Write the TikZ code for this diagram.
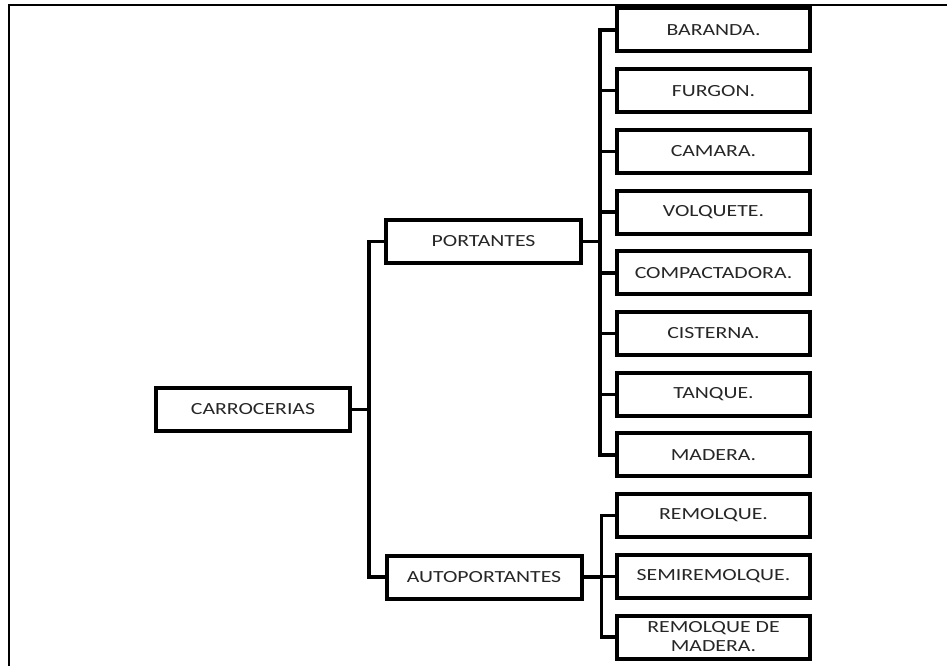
\documentclass[tikz,border=0pt]{standalone}
\usepackage{fontspec}
\setmainfont{Carlito}[FakeStretch=1.28]
\begin{document}
\begin{tikzpicture}[x=1pt,y=-1pt,
  box/.style={draw=black, line width=4pt, rectangle, inner sep=0pt,
    minimum width=193pt, minimum height=43pt, font=\fontsize{17}{19}\selectfont,
    text=black!85, align=center},
  conn/.style={draw=black, line width=3.4pt, line join=miter, line cap=rect},
  frame/.style={draw=black, line width=2pt}]
\useasboundingbox (0,0) rectangle (947,666);
% outer frame (left and top edges)
\draw[frame] (9,666) -- (9,5) -- (947,5);

% root and second level
\node[box, minimum width=194pt] (carr) at (253,409.5) {CARROCERIAS};
\node[box, minimum width=195pt] (port) at (483.5,241.5) {PORTANTES};
\node[box, minimum width=195pt] (auto) at (484,577) {AUTOPORTANTES};

% third level
\node[box] (b1) at (713.5,30) {BARANDA.};
\node[box] (b2) at (713.5,90.7) {FURGON.};
\node[box] (b3) at (713.5,151.4) {CAMARA.};
\node[box] (b4) at (713.5,212.1) {VOLQUETE.};
\node[box] (b5) at (713.5,272.8) {COMPACTADORA.};
\node[box] (b6) at (713.5,333.5) {CISTERNA.};
\node[box] (b7) at (713.5,394.2) {TANQUE.};
\node[box] (b8) at (713.5,454.9) {MADERA.};
\node[box] (c1) at (713.5,515.6) {REMOLQUE.};
\node[box] (c2) at (713.5,576.3) {SEMIREMOLQUE.};
\node[box] (c3) at (713.5,637) {REMOLQUE DE\\MADERA.};

% connectors
\foreach \t in {port,auto}
  \draw[conn] (carr.east) -- ++(17,0) |- (\t.west);
\foreach \t in {b1,b2,b3,b4,b5,b6,b7,b8}
  \draw[conn] (port.east) -- ++(17,0) |- (\t.west);
\foreach \t in {c1,c2,c3}
  \draw[conn] (auto.east) -- ++(18,0) |- (\t.west);
\end{tikzpicture}
\end{document}
